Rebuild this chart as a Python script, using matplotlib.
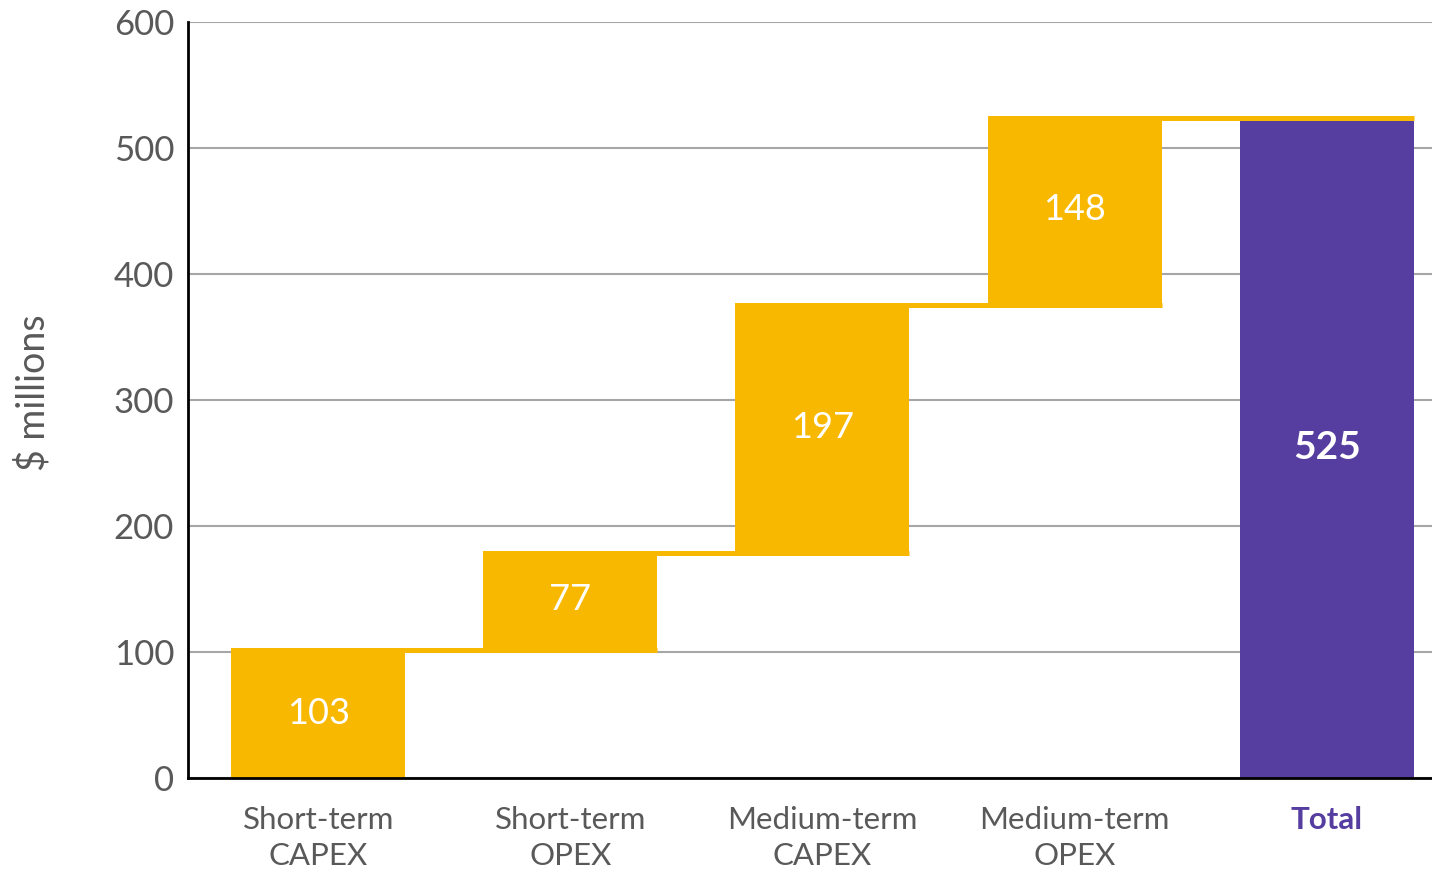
import numpy as np
import matplotlib.pyplot as plt

# waterfall data
categories = ['Short-term\nCAPEX', 'Short-term\nOPEX', 'Medium-term\nCAPEX', 'Medium-term\nOPEX', 'Total']
steps = [103, 77, 197, 148]
total = 525

yellow = '#F9B800'
purple = '#563DA0'
grey_txt = '#595959'

plt.rcParams['font.family'] = ['Lato', 'DejaVu Sans']

fig = plt.figure(figsize=(14.32, 8.72), dpi=100)
ax = fig.add_axes([0.1313, 0.1078, 0.8687, 0.867])

x = np.arange(len(categories))
w = 0.69
starts = np.concatenate([[0], np.cumsum(steps)[:-1]])
ends = np.cumsum(steps)

# step bars
ax.bar(x[:4], steps, bottom=starts, width=w, color=yellow, zorder=3)
# total bar
ax.bar(x[4], total, width=w, color=purple, zorder=3)

# connectors
for i in range(4):
    ax.hlines(ends[i] - 1.5, x[i] - w / 2, x[i + 1] + w / 2, color=yellow, lw=3.6, zorder=4)

# value labels
for i in range(4):
    ax.text(x[i], starts[i] + steps[i] / 2, str(steps[i]), ha='center', va='center',
            color='white', fontsize=26, zorder=5)
ax.text(x[4], total / 2, str(total), ha='center', va='center', color='white',
        fontsize=28, fontweight='bold', zorder=5)

ax.set_xlim(-0.516, 4.417)
ax.set_ylim(0, 600)
ax.set_yticks(range(0, 601, 100))
ax.grid(axis='y', color='#A6A6A6', lw=1.5, zorder=0)
ax.set_axisbelow(True)

ax.set_xticks(x)
ax.set_xticklabels(categories, fontsize=22.5, color=grey_txt, linespacing=1.35)
lbl = ax.get_xticklabels()[-1]
lbl.set_color(purple)
lbl.set_fontweight('bold')
ax.tick_params(axis='x', length=0, pad=20)
ax.tick_params(axis='y', length=0, pad=10, labelsize=25, labelcolor=grey_txt)

for s in ['top', 'right']:
    ax.spines[s].set_visible(False)
ax.spines['left'].set_linewidth(2)
ax.spines['bottom'].set_linewidth(2)
ax.spines['left'].set_zorder(6)
ax.spines['bottom'].set_zorder(6)

ax.set_ylabel('$ millions', fontsize=27, color=grey_txt)
ax.yaxis.set_label_coords(-0.110, 0.51)

plt.savefig('out.png', dpi=100)
